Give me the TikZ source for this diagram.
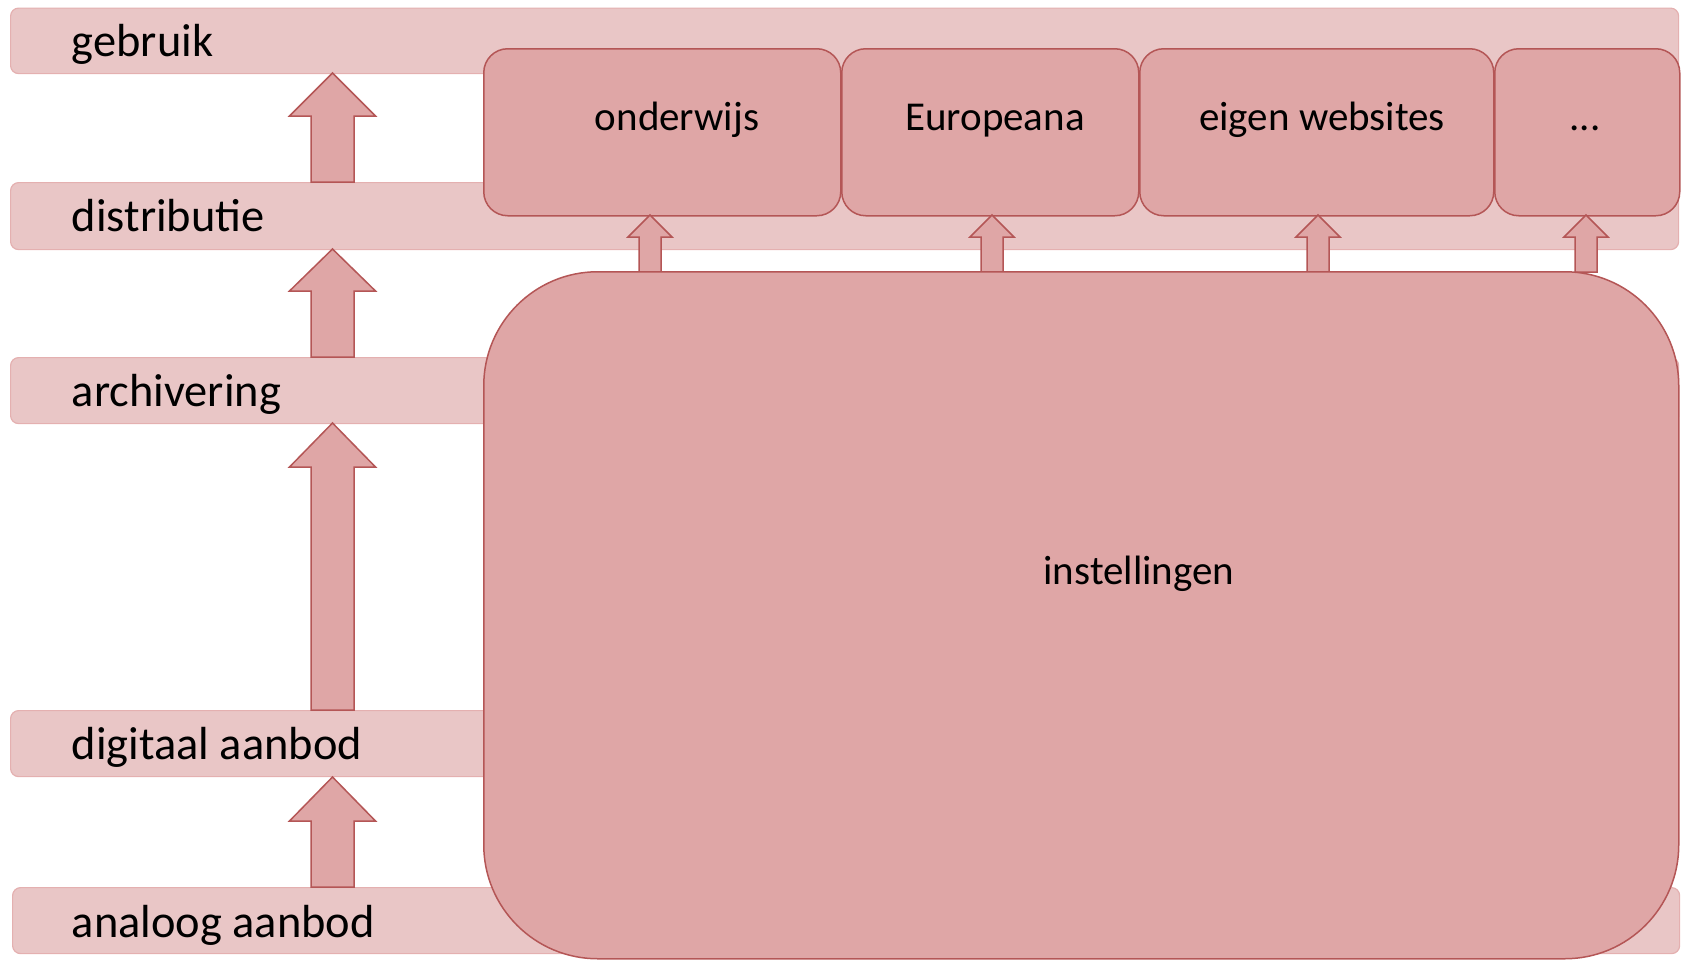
\documentclass[tikz,border=0pt]{standalone}
\usepackage{fontspec}
\setmainfont{Carlito}
\definecolor{bandfill}{RGB}{233,198,198}
\definecolor{banddraw}{RGB}{228,176,176}
\definecolor{boxfill}{RGB}{223,166,166}
\definecolor{boxdraw}{RGB}{180,86,86}
\newcommand\UpBlockArrow[6]{% x, bottom, headbase, tip, shaft half, head half
  \draw[uparrow] (#1-#5,#2) -- (#1-#5,#3) -- (#1-#6,#3) -- (#1,#4) -- (#1+#6,#3) -- (#1+#5,#3) -- (#1+#5,#2) -- cycle;}
\begin{document}
\begin{tikzpicture}[x=0.5pt,y=-0.5pt,
  band/.style={draw=banddraw, fill=bandfill, line width=0.6pt, rounded corners=4pt, inner sep=0pt, anchor=north west},
  box/.style={draw=boxdraw, fill=boxfill, line width=0.75pt, rounded corners=12pt, inner sep=0pt, anchor=north west},
  uparrow/.style={draw=boxdraw, fill=boxfill, line width=0.75pt, line join=miter},
  lbl/.style={anchor=base west, inner sep=0pt, font=\fontsize{23.2}{27}\selectfont},
  btxt/.style={anchor=base, inner sep=0pt, font=\fontsize{20.5}{24}\selectfont}]
\path[use as bounding box] (0,0) rectangle (1681,959);
% bands
\node[band, minimum width=834pt, minimum height=32.75pt] (bgebruik) at (10,7.5) {};
\node[band, minimum width=834pt, minimum height=33.5pt] (bdistr) at (10,182) {};
\node[band, minimum width=834pt, minimum height=33pt] (barch) at (10,357) {};
\node[band, minimum width=834pt, minimum height=33pt] (bdig) at (10,710) {};
\node[band, minimum width=833.5pt, minimum height=33pt] (banal) at (12,887) {};
\node[lbl] (tgebruik) at (71.5,56.5) {gebruik};
\node[lbl] (tdistr) at (71.5,231.5) {distributie};
\node[lbl] (tarch) at (71.5,406.5) {archivering};
\node[lbl] (tdig) at (71.5,759.5) {digitaal aanbod};
\node[lbl] (tanal) at (71.5,937.5) {analoog aanbod};
% left column arrows
\UpBlockArrow{332.5}{182}{116}{73}{21.5}{43}
\UpBlockArrow{332.5}{357}{291}{249}{21.5}{43}
\UpBlockArrow{332.5}{710}{467}{423}{21.5}{43}
\UpBlockArrow{332.5}{887}{821}{777}{21.5}{43}
% top boxes
\node[box, minimum width=178.5pt, minimum height=83.5pt] (onderwijs) at (483,48) {};
\node[box, minimum width=148.5pt, minimum height=83.5pt] (europeana) at (841,48) {};
\node[box, minimum width=177pt, minimum height=83.5pt] (eigen) at (1139,48) {};
\node[box, minimum width=92.5pt, minimum height=83.5pt] (dots) at (1494,48) {};
\node[btxt] (tonderwijs) at (677,130) {onderwijs};
\node[btxt] (teuropeana) at (995,130) {Europeana};
\node[btxt] (teigen) at (1322,130) {eigen websites};
\node[btxt] (tdots) at (1585,130) {...};
% small arrows
\UpBlockArrow{650}{272}{237}{215}{11}{22}
\UpBlockArrow{992}{272}{237}{215}{11}{22}
\UpBlockArrow{1318}{272}{237}{215}{11}{22}
\UpBlockArrow{1586}{272}{237}{215}{11}{22}
% instellingen
\node[box, rounded corners=57pt, minimum width=597.5pt, minimum height=343.5pt] (inst) at (483,271) {};
\node[btxt] (tinst) at (1139,584) {instellingen};
\end{tikzpicture}
\end{document}
